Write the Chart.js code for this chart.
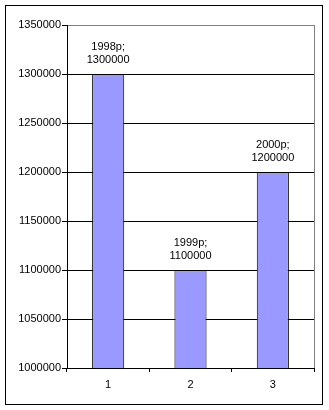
<!DOCTYPE html>
<html lang="uk">
<head>
  <meta charset="UTF-8" />
  <title>chart</title>
  <style>
    body { margin: 0; background: #fff; }
    #wrap { position: relative; width: 329px; height: 410px; }
    #frame {
      position: absolute; left: 5px; top: 5px; width: 318px; height: 400px;
      border: 1px solid #000; box-sizing: border-box; pointer-events: none;
    }
    canvas { position: absolute; left: 0; top: 0; }
  </style>
</head>
<body>
  <div id="wrap">
    <canvas id="c" width="329" height="410"></canvas>
    <div id="frame"></div>
  </div>

  <script src="https://cdn.jsdelivr.net/npm/chart.js"></script>
<script>
  const categories = ['1', '2', '3'];
  const years = ['1998р', '1999р', '2000р'];
  const values = [1300000, 1100000, 1200000];
  const yMin = 1000000;
  const yMax = 1350000;
  const yStep = 50000;

  const FONT = 'Arial, "Liberation Sans", sans-serif';

  // labels above the bars, two lines: "1998р;" / "1300000"
  const barLabels = {
    id: 'barLabels',
    afterDatasetsDraw(chart) {
      const ctx = chart.ctx;
      const meta = chart.getDatasetMeta(0);
      ctx.save();
      ctx.fillStyle = '#000';
      ctx.font = '11px ' + FONT;
      ctx.textAlign = 'center';
      ctx.textBaseline = 'middle';
      meta.data.forEach((bar, i) => {
        ctx.fillText(years[i] + ';', bar.x, bar.y - 27);
        ctx.fillText(String(values[i]), bar.x, bar.y - 14);
      });
      ctx.restore();
    }
  };

  // gray right border of the plot area
  const plotEdge = {
    id: 'plotEdge',
    beforeDatasetsDraw(chart) {
      const a = chart.chartArea;
      const ctx = chart.ctx;
      ctx.save();
      ctx.strokeStyle = '#808080';
      ctx.lineWidth = 1;
      ctx.beginPath();
      ctx.moveTo(Math.round(a.right) + 0.5, a.top);
      ctx.lineTo(Math.round(a.right) + 0.5, a.bottom);
      ctx.stroke();
      ctx.restore();
    }
  };

  new Chart(document.getElementById('c'), {
    type: 'bar',
    data: {
      labels: categories,
      datasets: [{
        data: values,
        backgroundColor: '#9999ff',
        borderColor: '#000',
        borderWidth: 1,
        barPercentage: 0.39,
        categoryPercentage: 1
      }]
    },
    options: {
      responsive: false,
      animation: false,
      layout: { padding: { left: 0, top: 25, right: 15, bottom: 0 } },
      plugins: {
        legend: { display: false },
        tooltip: { enabled: false }
      },
      scales: {
        x: {
          grid: {
            offset: true,
            drawOnChartArea: false,
            drawTicks: true,
            tickLength: 4,
            color: '#000'
          },
          border: { color: '#000' },
          ticks: {
            color: '#000',
            font: { family: FONT, size: 11 },
            padding: 6
          },
          afterFit(scale) { scale.height = 42; }
        },
        y: {
          min: yMin,
          max: yMax,
          grid: {
            color: c => (c.tick && c.tick.value === yMax) ? '#808080' : '#000',
            tickLength: 5,
            tickColor: '#000'
          },
          border: { color: '#000' },
          ticks: {
            stepSize: yStep,
            color: '#000',
            font: { family: FONT, size: 11 },
            padding: 1,
            callback: v => String(v)
          },
          afterFit(scale) { scale.width = 67; }
        }
      }
    },
    plugins: [plotEdge, barLabels]
  });
</script>
</body>
</html>
